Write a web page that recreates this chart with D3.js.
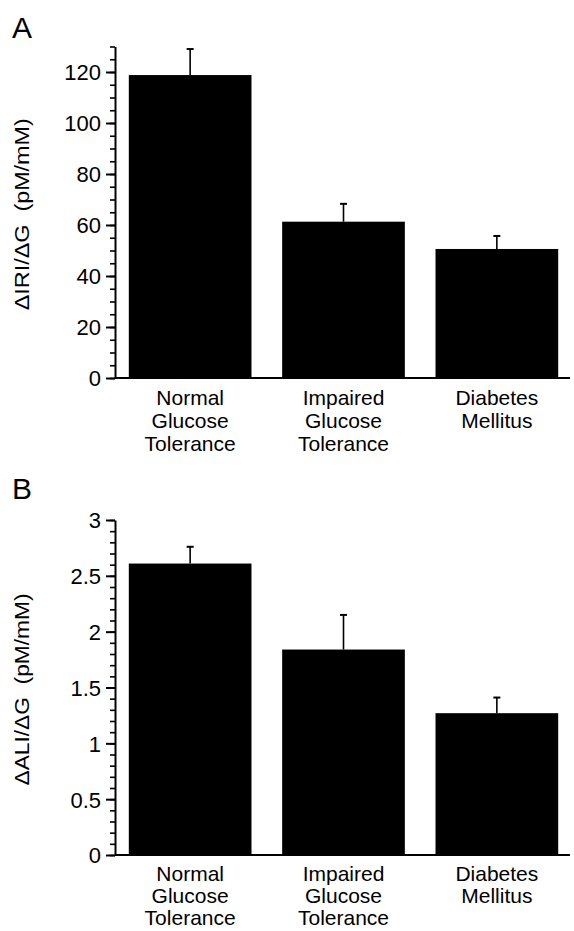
<!DOCTYPE html>
<html>
<head>
<meta charset="utf-8">
<script src="https://cdn.jsdelivr.net/npm/d3@7"></script>
<style>
  body { margin: 0; background: #fff; }
  svg text { font-family: "Liberation Sans", Arial, Helvetica, sans-serif; fill: #000; }
</style>
</head>
<body>
<div id="chart"></div>
<script>
// categories shared by both panels
const categories = [["Normal", "Glucose", "Tolerance"], ["Impaired", "Glucose", "Tolerance"], ["Diabetes", "Mellitus"]]

// panel A: insulin response
const iriValues = [118.8, 61.3, 50.6]
const iriErrors = [10.2, 7.0, 5.1]
const iriTicks = [0, 20, 40, 60, 80, 100, 120]

// panel B: amylin response
const aliValues = [2.61, 1.84, 1.27]
const aliErrors = [0.15, 0.31, 0.14]
const aliTicks = [0, 0.5, 1, 1.5, 2, 2.5, 3]

const width = 574, height = 931

const svg = d3.select("#chart").append("svg")
    .attr("width", width)
    .attr("height", height)

function drawPanel(opts) {
    const g = svg.append("g")

    let x = d3.scaleBand()
    .domain(d3.range(opts.values.length))
    .range([115, 572])
    .paddingInner(0.2)
    .paddingOuter(0.09)

    let y = d3.scaleLinear()
    .domain([0, opts.max])
    .range([opts.bottom, opts.top])

    // bars
    g.selectAll("rect.bar")
    .data(opts.values)
    .enter()
    .append("rect")
    .attr("class", "bar")
    .attr("x", (d, i) => x(i))
    .attr("y", d => y(d))
    .attr("width", x.bandwidth())
    .attr("height", d => y(0) - y(d))
    .style("fill", "#000")

    // error bars (upper only)
    const err = g.selectAll("g.err")
    .data(opts.values)
    .enter()
    .append("g")
    .attr("class", "err")

    err.append("line")
    .attr("x1", (d, i) => x(i) + x.bandwidth() / 2)
    .attr("x2", (d, i) => x(i) + x.bandwidth() / 2)
    .attr("y1", d => y(d))
    .attr("y2", (d, i) => y(d + opts.errors[i]))
    .attr("stroke", "#000")
    .attr("stroke-width", 1.6)

    err.append("line")
    .attr("x1", (d, i) => x(i) + x.bandwidth() / 2 - 3.5)
    .attr("x2", (d, i) => x(i) + x.bandwidth() / 2 + 3.5)
    .attr("y1", (d, i) => y(d + opts.errors[i]))
    .attr("y2", (d, i) => y(d + opts.errors[i]))
    .attr("stroke", "#000")
    .attr("stroke-width", 2)

    // minor ticks
    g.append("g")
    .attr("transform", "translate(115,0)")
    .call(d3.axisLeft(y).tickValues(opts.minor).tickSize(5).tickFormat(""))
    .call(a => a.select(".domain").remove())
    .call(a => a.selectAll("line").attr("stroke-width", 1.6))

    // major ticks + labels
    const yAxis = g.append("g")
    .attr("transform", "translate(115,0)")
    .call(d3.axisLeft(y).tickValues(opts.ticks).tickSize(9).tickPadding(5).tickSizeOuter(0)
        .tickFormat(d3.format("~g")))

    yAxis.select(".domain").attr("stroke-width", 2)
    yAxis.selectAll("line").attr("stroke-width", 2)
    yAxis.selectAll("text")
    .style("font-size", "22px")
    .attr("dy", "0.36em")

    // x axis baseline
    g.append("line")
    .attr("x1", 115)
    .attr("x2", 570)
    .attr("y1", y(0))
    .attr("y2", y(0))
    .attr("stroke", "#000")
    .attr("stroke-width", 2)

    // category labels
    const lab = g.selectAll("text.cat")
    .data(categories)
    .enter()
    .append("text")
    .attr("class", "cat")
    .attr("text-anchor", "middle")
    .style("font-size", "21px")

    lab.selectAll("tspan")
    .data((d, i) => d.map(t => ({t: t, i: i})))
    .enter()
    .append("tspan")
    .attr("x", d => x(d.i) + x.bandwidth() / 2)
    .attr("y", (d, j) => y(0) + opts.labelGap + j * opts.lineH)
    .text(d => d.t)

    // y axis title
    g.append("text")
    .attr("transform", "translate(29," + ((opts.top + opts.bottom) / 2 + 2) + ") rotate(-90)")
    .attr("text-anchor", "middle")
    .style("font-size", "20px")
    .attr("xml:space", "preserve")
    .attr("textLength", 192)
    .attr("lengthAdjust", "spacingAndGlyphs")
    .text(opts.title)

    // panel letter
    g.append("text")
    .attr("x", 12)
    .attr("y", opts.letterY)
    .style("font-size", "30px")
    .text(opts.letter)
}

drawPanel({
    values: iriValues, errors: iriErrors, ticks: iriTicks,
    minor: d3.range(0, 131, 5), max: 130,
    top: 46.5, bottom: 378, labelGap: 27, lineH: 23,
    title: "\u0394IRI/\u0394G  (pM/mM)", letter: "A", letterY: 38
})

drawPanel({
    values: aliValues, errors: aliErrors, ticks: aliTicks,
    minor: d3.range(0, 31, 1).map(d => d / 10), max: 3,
    top: 520, bottom: 855, labelGap: 26, lineH: 22,
    title: "\u0394ALI/\u0394G  (pM/mM)", letter: "B", letterY: 499
})
</script>
</body>
</html>
